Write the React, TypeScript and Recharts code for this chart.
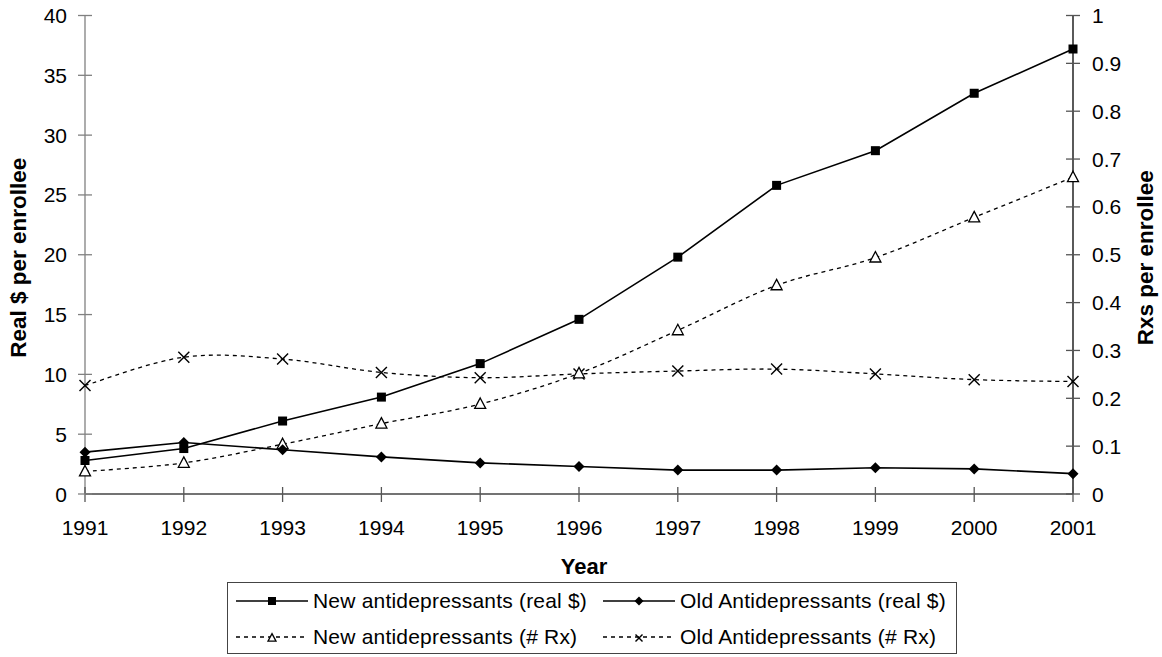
import React from "react";
import {
  Legend,
  Line,
  LineChart,
  XAxis,
  YAxis,
} from "recharts";

const years = ["1991", "1992", "1993", "1994", "1995", "1996", "1997", "1998", "1999", "2000", "2001"];
const newReal = [2.8, 3.8, 6.1, 8.1, 10.9, 14.6, 19.8, 25.8, 28.7, 33.5, 37.2];
const oldReal = [3.5, 4.3, 3.7, 3.1, 2.6, 2.3, 2.0, 2.0, 2.2, 2.1, 1.7];
const newRx = [0.047, 0.065, 0.104, 0.147, 0.188, 0.252, 0.342, 0.436, 0.494, 0.578, 0.662];
const oldRx = [0.227, 0.286, 0.282, 0.254, 0.243, 0.251, 0.257, 0.261, 0.251, 0.239, 0.235];

const leftTicks = [0, 5, 10, 15, 20, 25, 30, 35, 40];
const rightTicks = [0, 0.1, 0.2, 0.3, 0.4, 0.5, 0.6, 0.7, 0.8, 0.9, 1];

const data = years.map((year, i) => ({
  year,
  newReal: newReal[i],
  oldReal: oldReal[i],
  newRx: newRx[i],
  oldRx: oldRx[i],
}));

const FONT = '"Liberation Sans", Arial, sans-serif';
const FS = 21;

// Excel-like smoothed line (uniform Catmull-Rom as bezier)
const smooth = (context: any) => {
  let pts: [number, number][] = [];
  return {
    areaStart() {},
    areaEnd() {},
    lineStart() {
      pts = [];
    },
    lineEnd() {
      if (!pts.length) return;
      context.moveTo(pts[0][0], pts[0][1]);
      for (let i = 0; i < pts.length - 1; i++) {
        const p0 = pts[i - 1] || pts[i];
        const p1 = pts[i];
        const p2 = pts[i + 1];
        const p3 = pts[i + 2] || p2;
        context.bezierCurveTo(
          p1[0] + (p2[0] - p0[0]) / 6,
          p1[1] + (p2[1] - p0[1]) / 6,
          p2[0] - (p3[0] - p1[0]) / 6,
          p2[1] - (p3[1] - p1[1]) / 6,
          p2[0],
          p2[1],
        );
      }
    },
    point(x: number, y: number) {
      pts.push([+x, +y]);
    },
  };
};

const Square = ({ cx, cy, s = 9 }: any) => (
  <rect x={cx - s / 2} y={cy - s / 2} width={s} height={s} fill="#000" />
);
const Diamond = ({ cx, cy, r = 5.5 }: any) => (
  <polygon points={`${cx},${cy - r} ${cx + r},${cy} ${cx},${cy + r} ${cx - r},${cy}`} fill="#000" />
);
const Triangle = ({ cx, cy, r = 5.5 }: any) => (
  <polygon
    points={`${cx},${cy - r * 1.1} ${cx + r},${cy + r * 0.8} ${cx - r},${cy + r * 0.8}`}
    fill="#fff"
    stroke="#000"
    strokeWidth={1.3}
  />
);
const Cross = ({ cx, cy, r = 5.5 }: any) => (
  <g stroke="#000" strokeWidth={1.4}>
    <line x1={cx - r} y1={cy - r} x2={cx + r} y2={cy + r} />
    <line x1={cx - r} y1={cy + r} x2={cx + r} y2={cy - r} />
  </g>
);

const LeftTick = ({ x, y, payload }: any) => {
  const ax = x + 18;
  return (
    <g>
      <line x1={ax - 7} x2={ax + 7} y1={y} y2={y} stroke="#808080" strokeWidth={1.3} />
      <text x={x} y={y + 7.5} textAnchor="end" fontSize={FS} fontFamily={FONT} fill="#000">
        {payload.value}
      </text>
    </g>
  );
};

const RightTick = ({ x, y, payload }: any) => {
  const ax = x - 19;
  return (
    <g>
      <line x1={ax - 7} x2={ax + 7} y1={y} y2={y} stroke="#555" strokeWidth={1.3} />
      <text x={x} y={y + 7.5} textAnchor="start" fontSize={FS} fontFamily={FONT} fill="#000">
        {payload.value}
      </text>
    </g>
  );
};

const BottomTick = ({ x, y, payload }: any) => (
  <g>
    <line x1={x} x2={x} y1={y - 7} y2={y + 8} stroke="#555" strokeWidth={1.3} />
    <text x={x} y={y + 41} textAnchor="middle" fontSize={FS} fontFamily={FONT} fill="#000">
      {payload.value}
    </text>
  </g>
);

const YearLabel = ({ viewBox }: any) => {
  const vb = viewBox || { x: 85, y: 494, width: 988 };
  return (
    <text
      x={vb.x + vb.width / 2 + 5}
      y={vb.y + 80}
      textAnchor="middle"
      fontSize={22}
      fontWeight="bold"
      fontFamily={FONT}
      fill="#000"
    >
      Year
    </text>
  );
};

const SideLabel = ({ viewBox, text, dx }: any) => {
  const vb = viewBox || { x: 0, y: 15.5, width: 85, height: 478.5 };
  const cx = vb.x + dx;
  const cy = vb.y + vb.height / 2 + 3;
  return (
    <text
      x={cx}
      y={cy}
      transform={`rotate(-90 ${cx} ${cy})`}
      textAnchor="middle"
      dominantBaseline="central"
      fontSize={22.5}
      fontWeight="bold"
      fontFamily={FONT}
      fill="#000"
    >
      {text}
    </text>
  );
};

const LegendIcon = ({ dashed, marker }: any) => (
  <svg width={72} height={20} style={{ position: "absolute", left: 0, top: -10 }}>
    <line
      x1={0}
      x2={72}
      y1={10}
      y2={10}
      stroke="#000"
      strokeWidth={dashed ? 1.3 : 1.6}
      strokeDasharray={dashed ? "4 4" : undefined}
    />
    {marker === "square" && <Square cx={36} cy={10} s={8} />}
    {marker === "diamond" && <Diamond cx={36} cy={10} r={4.5} />}
    {marker === "triangle" && <Triangle cx={36} cy={11} r={4} />}
    {marker === "cross" && <Cross cx={36} cy={11} r={3.5} />}
  </svg>
);

const legendItems = [
  { label: "New antidepressants (real $)", dashed: false, marker: "square", left: 8, top: 18 },
  { label: "Old Antidepressants (real $)", dashed: false, marker: "diamond", left: 375, top: 18 },
  { label: "New antidepressants (# Rx)", dashed: true, marker: "triangle", left: 8, top: 54 },
  { label: "Old Antidepressants (# Rx)", dashed: true, marker: "cross", left: 375, top: 54 },
];

const LegendBox = () => (
  <div style={{ position: "relative", width: "100%", height: "100%" }}>
    {legendItems.map((it) => (
      <div key={it.label} style={{ position: "absolute", left: it.left, top: it.top }}>
        <LegendIcon dashed={it.dashed} marker={it.marker} />
        <span
          style={{
            position: "absolute",
            left: 77,
            top: -13,
            whiteSpace: "nowrap",
            fontSize: FS,
            fontFamily: FONT,
            letterSpacing: "0.2px",
            lineHeight: "26px",
            color: "#000",
          }}
        >
          {it.label}
        </span>
      </div>
    ))}
  </div>
);

export default function App() {
  return (
    <div style={{ position: "absolute", left: 0, top: 0, width: 1162, height: 657, background: "#fff" }}>
      <LineChart width={1162} height={657} data={data} margin={{ top: 15.5, right: 0, bottom: 103, left: 0 }}>
        <XAxis
          dataKey="year"
          interval={0}
          height={60}
          padding={{ left: 0, right: 0 }}
          tickSize={0}
          tickMargin={0}
          tickLine={false}
          stroke="#444"
          strokeWidth={1.3}
          tick={<BottomTick />}
          label={<YearLabel />}
        />
        <YAxis
          yAxisId="left"
          orientation="left"
          width={85}
          domain={[0, 40]}
          ticks={leftTicks}
          interval={0}
          tickSize={0}
          tickMargin={18}
          tickLine={false}
          stroke="#808080"
          strokeWidth={1.3}
          tick={<LeftTick />}
          label={<SideLabel text="Real $ per enrollee" dx={18} />}
        />
        <YAxis
          yAxisId="right"
          orientation="right"
          width={89}
          domain={[0, 1]}
          ticks={rightTicks}
          interval={0}
          tickSize={0}
          tickMargin={19}
          tickLine={false}
          stroke="#000"
          strokeWidth={1.3}
          tick={<RightTick />}
          label={<SideLabel text="Rxs per enrollee" dx={72} />}
        />
        <Line
          yAxisId="right"
          dataKey="oldRx"
          type={smooth as any}
          stroke="#000"
          strokeWidth={1.3}
          strokeDasharray="4 4"
          dot={(p: any) => <Cross key={`oc${p.index}`} cx={p.cx} cy={p.cy} />}
          activeDot={false}
          isAnimationActive={false}
        />
        <Line
          yAxisId="right"
          dataKey="newRx"
          type={smooth as any}
          stroke="#000"
          strokeWidth={1.3}
          strokeDasharray="4 4"
          dot={(p: any) => <Triangle key={`nt${p.index}`} cx={p.cx} cy={p.cy} />}
          activeDot={false}
          isAnimationActive={false}
        />
        <Line
          yAxisId="left"
          dataKey="oldReal"
          type="linear"
          stroke="#000"
          strokeWidth={1.6}
          dot={(p: any) => <Diamond key={`od${p.index}`} cx={p.cx} cy={p.cy} />}
          activeDot={false}
          isAnimationActive={false}
        />
        <Line
          yAxisId="left"
          dataKey="newReal"
          type="linear"
          stroke="#000"
          strokeWidth={1.6}
          dot={(p: any) => <Square key={`ns${p.index}`} cx={p.cx} cy={p.cy} />}
          activeDot={false}
          isAnimationActive={false}
        />
        <Legend
          layout="horizontal"
          verticalAlign="middle"
          align="center"
          wrapperStyle={{
            left: 227,
            top: 582,
            width: 730,
            height: 72,
            border: "1.3px solid #444",
            boxSizing: "border-box",
            background: "#fff",
          }}
          content={() => <LegendBox />}
        />
      </LineChart>
    </div>
  );
}
